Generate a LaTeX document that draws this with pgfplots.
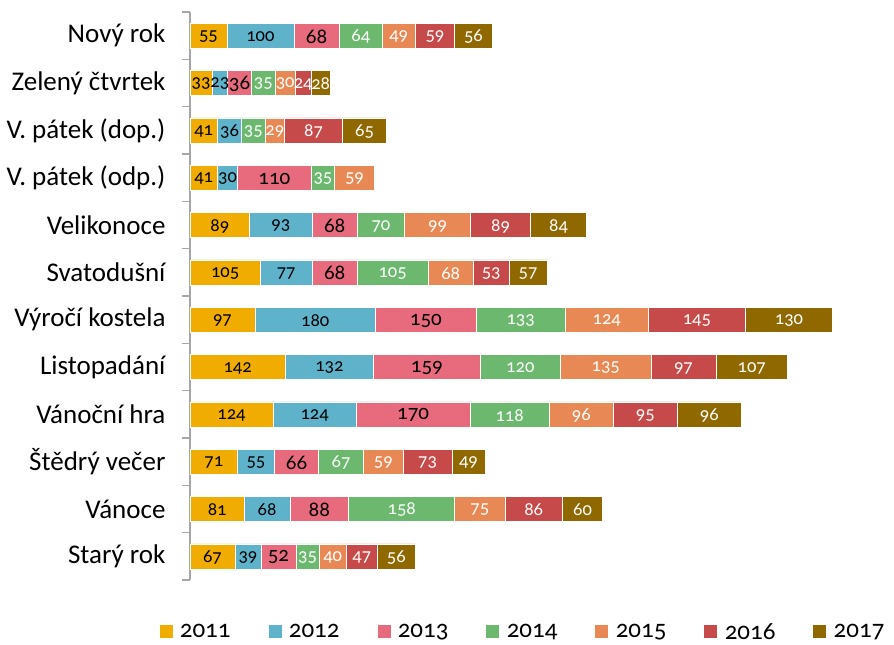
\documentclass[border=0pt]{standalone}
\usepackage{pgfplots}
\pgfplotsset{compat=1.18}
\usepackage{pgfplotstable}
\usepackage{fontspec}
\setmainfont{Carlito}
\newfontfamily\numfont[Numbers=OldStyle]{Carlito}
\definecolor{c11}{HTML}{F0AC00}
\definecolor{c12}{HTML}{5EB3CB}
\definecolor{c13}{HTML}{E76B7D}
\definecolor{c14}{HTML}{6BB86E}
\definecolor{c15}{HTML}{E88955}
\definecolor{c16}{HTML}{C74A4A}
\definecolor{c17}{HTML}{8F6900}
\definecolor{axgray}{HTML}{A6A6A6}
\pgfplotstableread{
idx a b c d e f g
0 55 100 68 64 49 59 56
1 33 23 36 35 30 24 28
2 41 36 0 35 29 87 65
3 41 30 110 35 59 0 0
4 89 93 68 70 99 89 84
5 105 77 68 105 68 53 57
6 97 180 150 133 124 145 130
7 142 132 159 120 135 97 107
8 124 124 170 118 96 95 96
9 71 55 66 67 59 73 49
10 81 68 88 158 75 86 60
11 67 39 52 35 40 47 56
}\data
\pgfplotsset{
  ser/.style n args={2}{
    fill=#1, draw=white, line width=0.6pt,
    every node near coord/.append style={text=#2},
  },
}
\begin{document}
\begin{tikzpicture}
\useasboundingbox (-190pt,-65pt) rectangle (704pt,580pt);
\begin{axis}[
  at={(0,0)}, anchor=south west,
  scale only axis, width=670pt, height=568pt,
  xbar stacked, bar width=25pt,
  xmin=0, xmax=1000,
  ymin=-0.5, ymax=11.5, y dir=reverse,
  hide x axis,
  axis y line*=left,
  y axis line style={axgray, line width=1.5pt},
  ytick={0,...,11},
  yticklabels={Nový rok, Zelený čtvrtek, V. pátek (dop.), V. pátek (odp.), Velikonoce, Svatodušní, Výročí kostela, Listopadání, Vánoční hra, Štědrý večer, Vánoce, Starý rok},
  major tick length=0pt,
  minor ytick={-0.5,0.5,...,11.5},
  minor tick length=8pt,
  tick align=outside,
  minor tick style={axgray, line width=1.5pt},
  major tick style={draw=none},
  yticklabel style={font=\fontsize{27}{31}\selectfont, anchor=east, xshift=-21pt},
  point meta=explicit symbolic,
  nodes near coords={\ifnum\pgfplotspointmeta=0 \else\pgfplotspointmeta\fi},
  nodes near coords align={center},
  every node near coord/.append style={font=\numfont\fontsize{18.5}{22}\selectfont, anchor=center, inner sep=0pt, yshift=-1pt},
  clip=false,
  legend columns=-1,
  legend style={at={(0.497,0)}, anchor=center, yshift=-52pt, draw=none, fill=none,
    font=\numfont\fontsize{25}{29}\selectfont,
    /tikz/every even column/.append style={column sep=36pt}},
  legend image code/.code={\fill[#1, draw=none] (0pt,-6pt) rectangle (13pt,7pt); \path (13pt,0pt) -- (18pt,0pt);},
]
\addplot[ser={c11}{black}] table[x=a, y=idx, meta=a] \data;
\addplot[ser={c12}{black}] table[x=b, y=idx, meta=b] \data;
\addplot[ser={c13}{black}, every node near coord/.append style={font=\numfont\fontsize{21}{25}\selectfont}] table[x=c, y=idx, meta=c] \data;
\addplot[ser={c14}{white}] table[x=d, y=idx, meta=d] \data;
\addplot[ser={c15}{white}] table[x=e, y=idx, meta=e] \data;
\addplot[ser={c16}{white}] table[x=f, y=idx, meta=f] \data;
\addplot[ser={c17}{white}] table[x=g, y=idx, meta=g] \data;
\legend{2011,2012,2013,2014,2015,2016,2017}
\end{axis}
\end{tikzpicture}
\end{document}
